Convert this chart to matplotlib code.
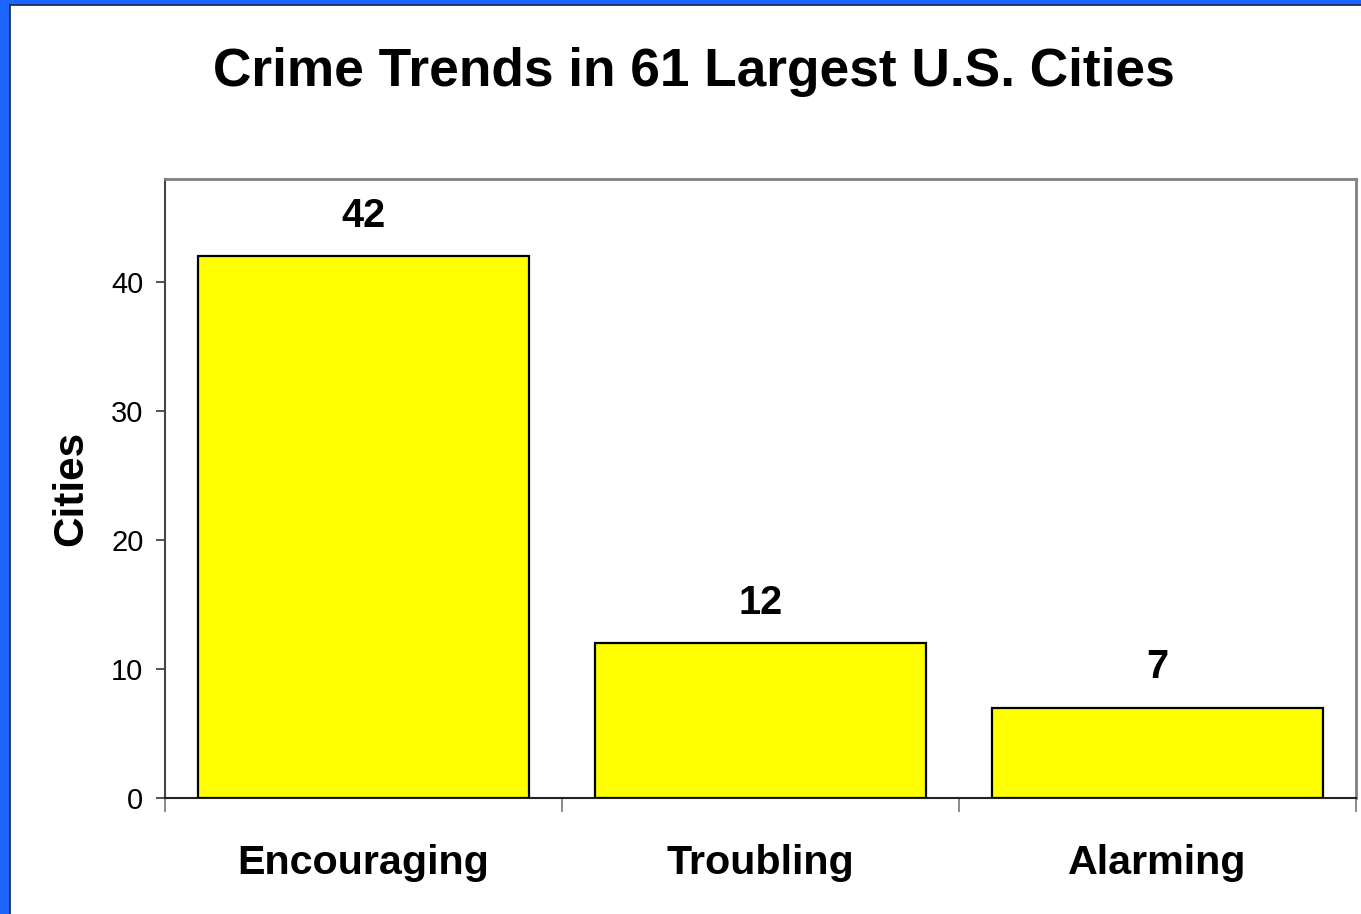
import matplotlib
matplotlib.use("Agg")
import matplotlib.pyplot as plt
from matplotlib.patches import Rectangle
from matplotlib.lines import Line2D

categories = ["Encouraging", "Troubling", "Alarming"]
cities = [42, 12, 7]
yticks = [0, 10, 20, 30, 40]

plt.rcParams['font.family'] = ['Liberation Sans', 'DejaVu Sans']

fig = plt.figure(figsize=(13.61, 9.14), dpi=100)
fig.patch.set_facecolor('white')

# blue border on left and top
fig.add_artist(Rectangle((0, 0), 9/1361, 1, transform=fig.transFigure, color='#1c66ff', zorder=0))
fig.add_artist(Rectangle((0, 1-4/914), 1, 4/914, transform=fig.transFigure, color='#1c66ff', zorder=0))
fig.add_artist(Line2D([9.5/1361, 9.5/1361], [0, 1-4.5/914], transform=fig.transFigure, color='#1a2a40', lw=1.2))
fig.add_artist(Line2D([9.5/1361, 1], [1-4.5/914, 1-4.5/914], transform=fig.transFigure, color='#1a2a40', lw=1.2))

ax = fig.add_axes([165/1361, 1-798/914, (1356-165)/1361, (798-179)/914])
x = list(range(len(categories)))
ax.bar(x, cities, width=0.836, color='#ffff00', edgecolor='black', linewidth=1.6, zorder=3)
ax.set_xlim(-0.5, 2.5)
ax.set_ylim(0, 48)

for xi, v in zip(x, cities):
    ax.annotate(str(v), (xi, v), xytext=(0, 29), textcoords='offset points',
                ha='center', va='center', fontsize=28.5, fontweight='bold')

ax.set_yticks(yticks)
ax.set_yticklabels([str(t) for t in yticks], fontsize=21)
ax.tick_params(axis='y', direction='out', length=6.5, width=1.2, color='#333333', pad=9)

ax.set_xticks(x)
ax.set_xticklabels(categories, fontsize=29.7, fontweight='bold')
ax.tick_params(axis='x', which='major', length=0, pad=33)
ax.set_xticks([-0.5, 0.5, 1.5, 2.5], minor=True)
ax.tick_params(axis='x', which='minor', direction='out', length=10, width=1.2, color='#777777')

ax.set_ylabel("Cities", fontsize=30.4, fontweight='bold', labelpad=14)

for side in ['top', 'right']:
    ax.spines[side].set_color('#808080')
    ax.spines[side].set_linewidth(2)
ax.spines['left'].set_color('#444444')
ax.spines['left'].set_linewidth(1.5)
ax.spines['bottom'].set_color('#222222')
ax.spines['bottom'].set_linewidth(1.5)

fig.text(694/1361, 1-72/914, "Crime Trends in 61 Largest U.S. Cities", ha='center', va='center',
         fontsize=38.3, fontweight='bold')

fig.savefig("out.png", dpi=100)
